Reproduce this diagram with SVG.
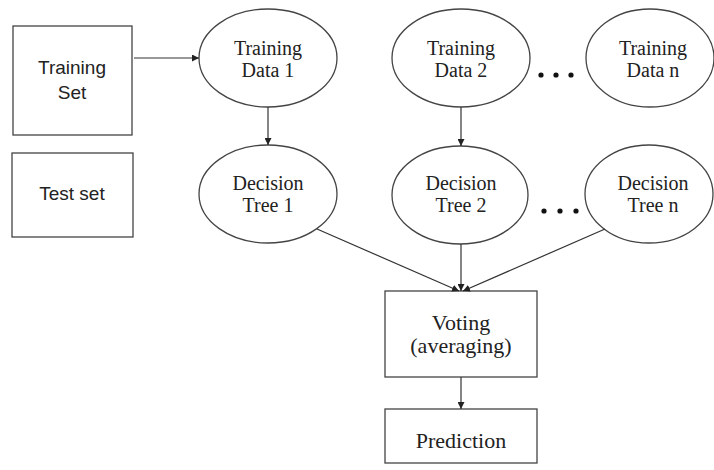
<svg xmlns="http://www.w3.org/2000/svg" width="714" height="470" viewBox="0 0 714 470">
<style>
.shape{fill:#fff;stroke:#444;stroke-width:1.3}
.serif{font-family:"Liberation Serif","Times New Roman",serif;fill:#222;text-anchor:middle}
.sans{font-family:"Liberation Sans",Arial,sans-serif;fill:#222;text-anchor:middle;font-size:19px}
.e{font-size:20px}
.b{font-size:22px}
.conn{stroke:#333;stroke-width:1.2;fill:none;marker-end:url(#arr)}
.dot{fill:#111}
</style>
<defs>
<marker id="arr" viewBox="0 0 10 10" refX="10" refY="5" markerWidth="7" markerHeight="7" markerUnits="userSpaceOnUse" orient="auto">
<path d="M0,0 L10,5 L0,10 z" fill="#222"/>
</marker>
</defs>
<rect width="714" height="470" fill="#fff"/>
<g id="training-set">
<rect class="shape" x="13" y="26" width="119" height="109"/>
<text class="sans" x="72" y="74">Training</text>
<text class="sans" x="72" y="99">Set</text>
</g>
<g id="test-set">
<rect class="shape" x="12" y="153" width="121" height="84"/>
<text class="sans" x="72" y="200">Test set</text>
</g>
<g id="training-data-1">
<ellipse class="shape" cx="268" cy="58" rx="69" ry="49"/>
<text class="serif e" x="268" y="55">Training</text>
<text class="serif e" x="268" y="77">Data 1</text>
</g>
<g id="training-data-2">
<ellipse class="shape" cx="461" cy="58" rx="69" ry="49"/>
<text class="serif e" x="461" y="55">Training</text>
<text class="serif e" x="461" y="77">Data 2</text>
</g>
<g id="training-data-n">
<ellipse class="shape" cx="650" cy="58" rx="64" ry="49"/>
<text class="serif e" x="653" y="55">Training</text>
<text class="serif e" x="653" y="77">Data n</text>
</g>
<g id="dots-1">
<circle class="dot" cx="541" cy="75" r="2.6"/>
<circle class="dot" cx="556" cy="75" r="2.6"/>
<circle class="dot" cx="571" cy="75" r="2.6"/>
</g>
<g id="decision-tree-1">
<ellipse class="shape" cx="268" cy="194" rx="69" ry="49"/>
<text class="serif e" x="268" y="190">Decision</text>
<text class="serif e" x="268" y="212">Tree 1</text>
</g>
<g id="decision-tree-2">
<ellipse class="shape" cx="460" cy="195" rx="68" ry="49"/>
<text class="serif e" x="461" y="190">Decision</text>
<text class="serif e" x="461" y="212">Tree 2</text>
</g>
<g id="decision-tree-n">
<ellipse class="shape" cx="649" cy="194" rx="64" ry="49"/>
<text class="serif e" x="653" y="190">Decision</text>
<text class="serif e" x="653" y="212">Tree n</text>
</g>
<g id="dots-2">
<circle class="dot" cx="544" cy="211" r="2.6"/>
<circle class="dot" cx="560" cy="211" r="2.6"/>
<circle class="dot" cx="576" cy="211" r="2.6"/>
</g>
<g id="voting">
<rect class="shape" x="385" y="291" width="152" height="86"/>
<text class="serif b" x="461" y="330">Voting</text>
<text class="serif b" x="461" y="353">(averaging)</text>
</g>
<g id="prediction">
<rect class="shape" x="385" y="409" width="152" height="54"/>
<text class="serif b" x="461" y="448">Prediction</text>
</g>
<g id="connectors">
<line class="conn" x1="134" y1="58" x2="199" y2="58"/>
<line class="conn" x1="268" y1="107" x2="268" y2="145"/>
<line class="conn" x1="461" y1="107" x2="461" y2="146"/>
<line class="conn" x1="317" y1="229" x2="459" y2="291"/>
<line class="conn" x1="461" y1="244" x2="461" y2="291"/>
<line class="conn" x1="605" y1="229" x2="463" y2="291"/>
<line class="conn" x1="461" y1="377" x2="461" y2="409"/>
</g>
</svg>
